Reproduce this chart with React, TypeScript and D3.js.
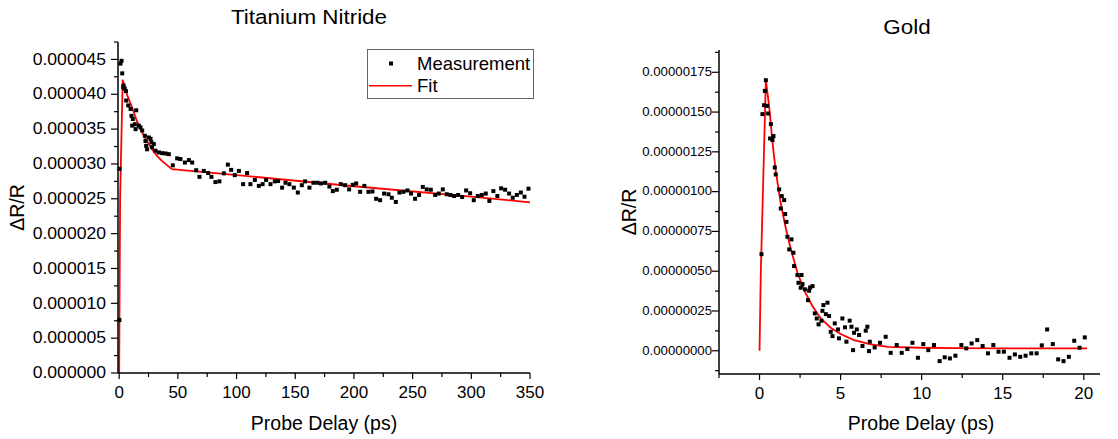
import React from "react";
import * as d3 from "d3";

// ---------- Titanium Nitride (values in units of 1e-6) ----------
const tinDelay = [0.2, 0.3, 1.1, 2.0, 2.6, 3.4, 3.8, 4.7, 5.8, 6.0, 7.7, 9.7, 10.5, 11.1, 11.6, 13.3, 14.0, 14.5, 16.7, 18.1, 19.6, 21.9, 22.4, 23.0, 23.8, 25.3, 26.7, 27.5, 28.0, 29.5, 30.9, 33.8, 36.6, 39.5, 42.3, 45.7, 49.4, 52.2, 56.0, 59.4, 62.2, 65.6, 68.4, 72.1, 75.8, 78.6, 82.0, 85.4, 89.2, 92.6, 95.4, 98.5, 102.0, 105.6, 109.0, 111.8, 115.6, 119.0, 122.2, 125.2, 128.9, 132.6, 135.4, 138.8, 141.7, 145.0, 148.8, 152.2, 155.6, 158.4, 162.1, 165.5, 168.9, 172.0, 175.5, 179.1, 182.0, 185.4, 188.8, 192.5, 195.9, 199.0, 201.9, 205.3, 208.9, 212.4, 215.8, 218.9, 222.3, 225.7, 229.4, 232.3, 235.7, 238.8, 242.2, 245.6, 248.7, 252.1, 255.5, 258.7, 262.0, 265.5, 269.2, 272.3, 275.7, 279.1, 282.2, 285.3, 288.8, 292.2, 295.6, 299.0, 302.1, 305.5, 308.9, 312.3, 315.4, 318.8, 322.2, 325.4, 328.8, 332.2, 335.3, 338.8, 342.2, 345.3, 348.7];
const tinSignal = [7.6, 29.3, 44.4, 44.8, 43.0, 41.0, 41.25, 40.8, 40.45, 39.1, 38.4, 37.9, 36.9, 35.5, 36.45, 35.7, 35.0, 37.7, 35.5, 35.25, 34.8, 34.05, 33.3, 32.6, 32.1, 33.8, 33.6, 33.1, 32.4, 32.85, 31.9, 31.65, 31.55, 31.5, 31.4, 29.8, 30.8, 30.7, 30.2, 30.55, 30.2, 29.1, 28.15, 29.0, 28.7, 28.15, 27.4, 27.5, 28.65, 29.9, 29.15, 28.4, 29.0, 27.1, 28.7, 27.1, 27.7, 26.85, 27.1, 27.7, 27.1, 27.5, 27.55, 26.6, 27.3, 27.1, 26.6, 25.9, 26.95, 27.5, 26.6, 27.3, 27.3, 27.2, 27.3, 26.75, 26.1, 26.3, 27.1, 26.95, 26.35, 27.0, 27.2, 26.0, 26.85, 26.0, 26.05, 25.0, 24.8, 25.75, 25.65, 25.15, 24.55, 25.9, 26.0, 26.2, 25.75, 25.0, 25.55, 26.7, 26.35, 26.3, 25.55, 25.75, 26.35, 25.65, 25.55, 25.4, 25.55, 25.25, 26.2, 25.8, 24.8, 25.4, 25.55, 25.75, 24.7, 26.1, 25.4, 26.5, 26.3, 25.75, 25.15, 25.55, 25.9, 25.3, 26.45];
const tinFitDelay = [0, 0.8, 3.0, 7, 11, 15, 19.6, 24, 28, 32, 36.6, 41, 45, 100, 200, 300, 350];
const tinFitSignal = [0, 25, 42.1, 39.8, 38.1, 36.2, 34.5, 33.2, 32.1, 31.2, 30.4, 29.8, 29.25, 28.4, 26.8, 25.3, 24.5];
const tinXTicks = [0, 50, 100, 150, 200, 250, 300, 350];
const tinYTicks = [0, 5, 10, 15, 20, 25, 30, 35, 40, 45];

// ---------- Gold (values in units of 1e-6) ----------
const goldDelay = [0.12, 0.18, 0.28, 0.33, 0.39, 0.45, 0.53, 0.65, 0.70, 0.80, 0.86, 0.94, 1.0, 1.21, 1.31, 1.37, 1.52, 1.58, 1.66, 1.72, 1.83, 1.97, 2.09, 2.13, 2.34, 2.40, 2.54, 2.59, 2.65, 2.81, 2.99, 3.06, 3.12, 3.27, 3.41, 3.53, 3.64, 3.82, 3.88, 3.94, 4.09, 4.19, 4.29, 4.39, 4.5, 4.64, 4.84, 4.9, 5.11, 5.27, 5.36, 5.56, 5.67, 5.77, 5.83, 6.0, 6.14, 6.35, 6.55, 6.65, 6.75, 6.8, 7.1, 7.43, 7.78, 8.09, 8.46, 8.77, 9.12, 9.43, 9.77, 10.1, 10.41, 10.76, 11.11, 11.42, 11.74, 12.08, 12.45, 12.75, 13.08, 13.43, 13.76, 14.09, 14.42, 14.74, 15.07, 15.42, 15.75, 16.08, 16.41, 16.76, 17.09, 17.41, 17.74, 18.09, 18.42, 18.75, 19.08, 19.41, 19.74, 20.06];
const goldSignal = [0.607, 1.487, 1.543, 1.633, 1.70, 1.539, 1.491, 1.334, 1.424, 1.324, 1.349, 1.152, 1.108, 1.014, 0.894, 0.972, 0.947, 0.859, 0.81, 0.716, 0.637, 0.70, 0.616, 0.532, 0.476, 0.427, 0.396, 0.476, 0.419, 0.386, 0.318, 0.377, 0.398, 0.406, 0.235, 0.203, 0.166, 0.189, 0.251, 0.287, 0.23, 0.302, 0.218, 0.119, 0.092, 0.172, 0.134, 0.078, 0.203, 0.147, 0.057, 0.189, 0.151, 0.004, 0.113, 0.134, 0.099, 0.03, 0.126, 0.151, -0.002, 0.057, 0.021, 0.05, 0.088, -0.013, 0.036, -0.013, 0.011, 0.05, -0.044, 0.042, 0.004, 0.036, -0.065, -0.041, -0.048, -0.031, 0.036, 0.015, 0.046, 0.067, 0.03, -0.016, 0.036, -0.006, -0.006, -0.044, -0.023, -0.038, -0.031, -0.016, -0.016, 0.034, 0.134, 0.042, -0.054, -0.065, -0.038, 0.063, 0.019, 0.084];
const goldFitDelay = [0, 0.08, 0.39, 0.6, 0.8, 1.0, 1.3, 1.62, 1.9, 2.34, 2.8, 3.27, 3.78, 4.39, 5.0, 5.83, 6.8, 7.9, 9.94, 12, 15, 20.2];
const goldFitSignal = [0, 0.5, 1.70, 1.53, 1.31, 1.13, 0.93, 0.77, 0.65, 0.49, 0.37, 0.28, 0.203, 0.145, 0.105, 0.067, 0.042, 0.025, 0.019, 0.016, 0.015, 0.015];
const goldXTicks = [0, 5, 10, 15, 20];
const goldYTicks = [0, 0.25, 0.5, 0.75, 1.0, 1.25, 1.5, 1.75];

const FONT = "'Liberation Sans', Arial, sans-serif";

type PanelProps = {
  title: string;
  titleX: number;
  titleY: number;
  xDomain: [number, number];
  xRange: [number, number];
  yDomain: [number, number];
  yRange: [number, number];
  xTicks: number[];
  xMinorStep: number;
  yTicks: number[];
  yMinorStep: number;
  yDecimals: number;
  xs: number[];
  ys: number[];
  fitX: number[];
  fitY: number[];
  xTickFont: number;
  yTickFont: number;
  yTickSx: number;
  yTickGap: number;
  yLabelX: number;
  labelCenterX: number;
};

function Panel(p: PanelProps) {
  const x = d3.scaleLinear().domain(p.xDomain).range(p.xRange);
  const y = d3.scaleLinear().domain(p.yDomain).range(p.yRange);
  const x0 = p.xRange[0];
  const yb = p.yRange[0];
  const minorX: number[] = [];
  for (let v = Math.ceil(p.xDomain[0] / p.xMinorStep) * p.xMinorStep; v <= p.xDomain[1] + 1e-9; v += p.xMinorStep) {
    if (!p.xTicks.some((t) => Math.abs(t - v) < 1e-9)) minorX.push(v);
  }
  const minorY: number[] = [];
  for (let v = Math.ceil(p.yDomain[0] / p.yMinorStep) * p.yMinorStep; v <= p.yDomain[1] + 1e-9; v += p.yMinorStep) {
    if (!p.yTicks.some((t) => Math.abs(t - v) < 1e-9)) minorY.push(v);
  }
  const line = d3
    .line<number>()
    .x((_, i) => x(p.fitX[i]))
    .y((d) => y(d));
  const labelStr = (v: number) => (v * 1e-6).toFixed(p.yDecimals);
  const yLabelCy = (p.yRange[0] + p.yRange[1]) / 2;
  return (
    <g>
      <text
        transform={`translate(${p.titleX},${p.titleY}) scale(1.15,1)`}
        textAnchor="middle"
        fontSize={19.5}
        fontFamily={FONT}
      >
        {p.title}
      </text>
      {/* fit */}
      <path d={line(p.fitY) || ""} fill="none" stroke="#ff0000" strokeWidth={1.8} />
      {/* measurements */}
      {p.xs.map((v, i) => (
        <rect key={i} x={x(v) - 2} y={y(p.ys[i]) - 2} width={4} height={4} fill="#000" />
      ))}
      {/* axes */}
      <line x1={x0} x2={p.xRange[1]} y1={yb} y2={yb} stroke="#000" strokeWidth={1.5} />
      <line x1={x0} x2={x0} y1={yb} y2={p.yRange[1]} stroke="#000" strokeWidth={1.5} />
      {p.xTicks.map((t) => (
        <g key={"xt" + t}>
          <line x1={x(t)} x2={x(t)} y1={yb} y2={yb + 6} stroke="#000" strokeWidth={1.2} />
          <text x={x(t)} y={yb + 25} textAnchor="middle" fontSize={p.xTickFont} fontFamily={FONT}>
            {t}
          </text>
        </g>
      ))}
      {minorX.map((t) => (
        <line key={"xm" + t} x1={x(t)} x2={x(t)} y1={yb} y2={yb + 4} stroke="#000" strokeWidth={1.2} />
      ))}
      {p.yTicks.map((t) => (
        <g key={"yt" + t}>
          <line x1={x0 - 7} x2={x0} y1={y(t)} y2={y(t)} stroke="#000" strokeWidth={1.2} />
          <text
            transform={`translate(${x0 - p.yTickGap},${y(t)}) scale(${p.yTickSx},1)`}
            textAnchor="end"
            dominantBaseline="central"
            fontSize={p.yTickFont}
            fontFamily={FONT}
          >
            {labelStr(t)}
          </text>
        </g>
      ))}
      {minorY.map((t) => (
        <line key={"ym" + t} x1={x0 - 4} x2={x0} y1={y(t)} y2={y(t)} stroke="#000" strokeWidth={1.2} />
      ))}
      <text x={p.labelCenterX} y={430} textAnchor="middle" fontSize={19.5} fontFamily={FONT}>
        Probe Delay (ps)
      </text>
      <text
        transform={`translate(${p.yLabelX},${yLabelCy}) rotate(-90)`}
        textAnchor="middle"
        fontSize={19.5}
        fontFamily={FONT}
      >
        ΔR/R
      </text>
    </g>
  );
}

export default function App() {
  return (
    <svg width={1118} height={439} style={{ position: "absolute", left: 0, top: 0, background: "#fff" }}>
      <rect width={1118} height={439} fill="#fff" />
      <Panel
        title="Titanium Nitride"
        titleX={309}
        titleY={24}
        xDomain={[-1, 350]}
        xRange={[118, 530]}
        yDomain={[0, 47.5]}
        yRange={[373, 42]}
        xTicks={tinXTicks}
        xMinorStep={25}
        yTicks={tinYTicks}
        yMinorStep={2.5}
        yDecimals={6}
        xs={tinDelay}
        ys={tinSignal}
        fitX={tinFitDelay}
        fitY={tinFitSignal}
        xTickFont={17}
        yTickFont={16}
        yTickSx={1.1}
        yTickGap={12}
        yLabelX={24}
        labelCenterX={324}
      />
      <Panel
        title="Gold"
        titleX={907}
        titleY={34}
        xDomain={[-2.5, 21]}
        xRange={[719, 1100]}
        yDomain={[-0.146, 1.89]}
        yRange={[374, 50]}
        xTicks={goldXTicks}
        xMinorStep={2.5}
        yTicks={goldYTicks}
        yMinorStep={0.125}
        yDecimals={8}
        xs={goldDelay}
        ys={goldSignal}
        fitX={goldFitDelay}
        fitY={goldFitSignal}
        xTickFont={17}
        yTickFont={12}
        yTickSx={1.1}
        yTickGap={7}
        yLabelX={636}
        labelCenterX={921}
      />
      {/* legend */}
      <rect x={367.5} y={49.5} width={166} height={49} fill="#fff" stroke="#666" strokeWidth={1} />
      <rect x={389} y={61.5} width={4} height={4} fill="#000" />
      <text x={417} y={69.5} fontSize={18.5} fontFamily={FONT}>
        Measurement
      </text>
      <line x1={369} x2={412} y1={85.7} y2={85.7} stroke="#ff0000" strokeWidth={1.5} />
      <text x={417} y={92} fontSize={18.5} fontFamily={FONT}>
        Fit
      </text>
    </svg>
  );
}
